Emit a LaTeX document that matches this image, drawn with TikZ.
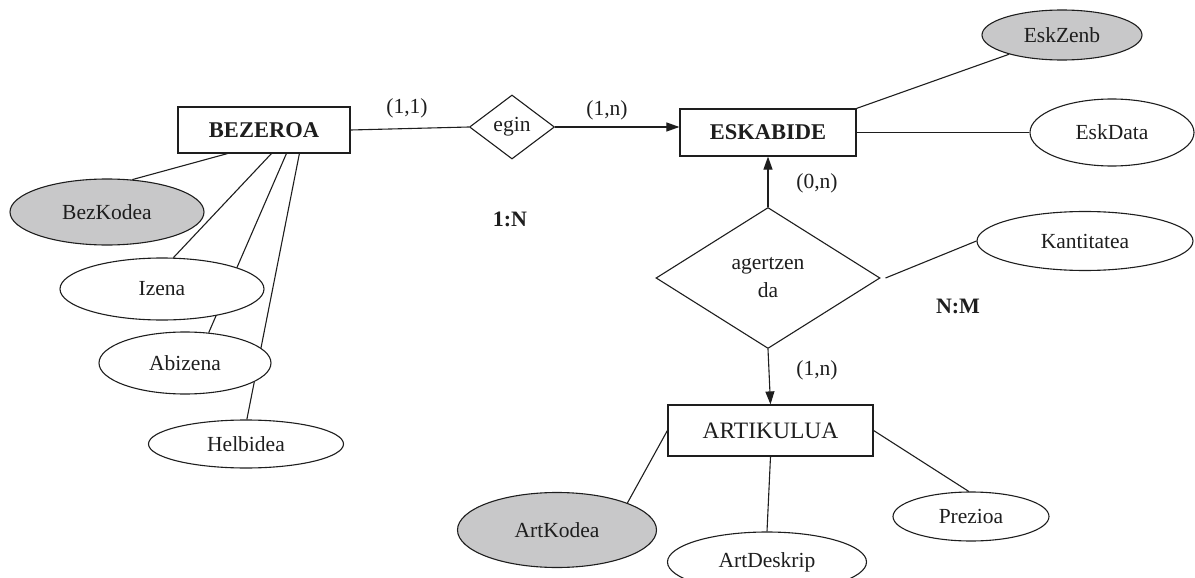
\documentclass[tikz,border=0pt]{standalone}
\usepackage{fontspec}
\setmainfont{Liberation Serif}
\usetikzlibrary{shapes.geometric,arrows.meta,calc}
\definecolor{keyfill}{RGB}{200,200,201}
\definecolor{ink}{RGB}{30,30,30}
\pgfdeclarelayer{background}
\pgfsetlayers{background,main}
\begin{document}
\begin{tikzpicture}[x=1pt,y=-1pt,
  font=\fontsize{21.5}{28}\selectfont,
  every node/.style={text=ink},
  entity/.style={draw=ink, line width=1.2pt, rectangle, inner sep=0pt, fill=white,
    font=\fontsize{22.5}{26}\selectfont\bfseries},
  plainentity/.style={entity, font=\fontsize{23.5}{26}\selectfont},
  attr/.style={draw=ink, line width=1.1pt, ellipse, inner sep=0pt, fill=white},
  keyattr/.style={attr, fill=keyfill},
  rel/.style={draw=ink, line width=1.1pt, diamond, inner sep=0pt, aspect=1, fill=white, align=center},
  link/.style={draw=ink, line width=1.1pt},
  thicklink/.style={draw=ink, line width=1.9pt},
  card/.style={inner sep=0pt},
  ratio/.style={inner sep=0pt, font=\fontsize{22}{26}\selectfont\bfseries},
  tip/.style={-{Triangle[length=13pt,width=9pt]}}
]
\useasboundingbox (0,0) rectangle (1195,578);

% entities
\node[entity, minimum width=172pt, minimum height=46pt] (bez) at (264,130) {BEZEROA};
\node[entity, minimum width=176pt, minimum height=47pt] (esk) at (768,132.5) {ESKABIDE};
\node[plainentity, minimum width=205pt, minimum height=51pt] (art) at (770.5,430.5) {ARTIKULUA};

% relationships
\node[rel, minimum width=85pt, minimum height=64pt] (egin) at (512,127) {egin};
\node[rel, minimum width=224pt, minimum height=141pt] (ag) at (768,278) {agertzen\\da};

% attributes of BEZEROA
\node[keyattr, minimum width=194pt, minimum height=66pt] (bezk) at (107,212) {BezKodea};
\node[attr, minimum width=204pt, minimum height=62pt] (izena) at (162,289) {Izena};
\node[attr, minimum width=172pt, minimum height=62pt] (abiz) at (185,363) {Abizena};
\node[attr, minimum width=195pt, minimum height=48pt] (helb) at (246,444) {Helbidea};

% attributes of ESKABIDE
\node[keyattr, minimum width=160pt, minimum height=50pt] (eskz) at (1062,35) {EskZenb};
\node[attr, minimum width=164pt, minimum height=67pt] (eskd) at (1112,132.5) {EskData};

% attribute of the relationship
\node[attr, minimum width=216pt, minimum height=59pt] (kant) at (1085,241) {Kantitatea};

% attributes of ARTIKULUA
\node[keyattr, minimum width=199pt, minimum height=75pt] (artk) at (557,530) {ArtKodea};
\node[attr, minimum width=199pt, minimum height=60pt] (artd) at (767,562) {ArtDeskrip};
\node[attr, minimum width=156pt, minimum height=49pt] (prez) at (971,516.5) {Prezioa};

% cardinalities and ratios
\node[card] (c11) at (407,108) {(1,1)};
\node[card] (c1n) at (607,110) {(1,n)};
\node[card] (c0n) at (817,183) {(0,n)};
\node[card] (c1nb) at (817,370) {(1,n)};
\node[ratio] (r1n) at (510,219) {1:N};
\node[ratio] (rnm) at (958,306) {N:M};

% connectors, kept behind the shapes
\begin{pgfonlayer}{background}
  \draw[link] ([xshift=50pt]bez.south west) -- (bezk.52);
  \draw[link] ([xshift=94pt]bez.south west) -- (izena.70);
  \draw[link] ([xshift=109pt]bez.south west) -- (abiz.52);
  \draw[link] ([xshift=122pt]bez.south west) -- (helb.88);
  \draw[link] (bez.east) -- (egin.west);
  \draw[link, tip] (egin.east) -- (egin.east -| esk.west);
  \draw[link] (esk.north east) -- (eskz.200);
  \draw[thicklink] (esk.east) -- (eskd.west);
  \draw[link, tip] (ag.north) -- (esk.south);
  \draw[link] ([xshift=5pt]ag.east) -- (kant.west);
  \draw[link, tip] (ag.south) -- (art.north);
  \draw[link] (art.west) -- (artk.21);
  \draw[link] (art.south) -- (artd.north);
  \draw[link] (art.east) -- (prez.95);
\end{pgfonlayer}
\end{tikzpicture}
\end{document}
